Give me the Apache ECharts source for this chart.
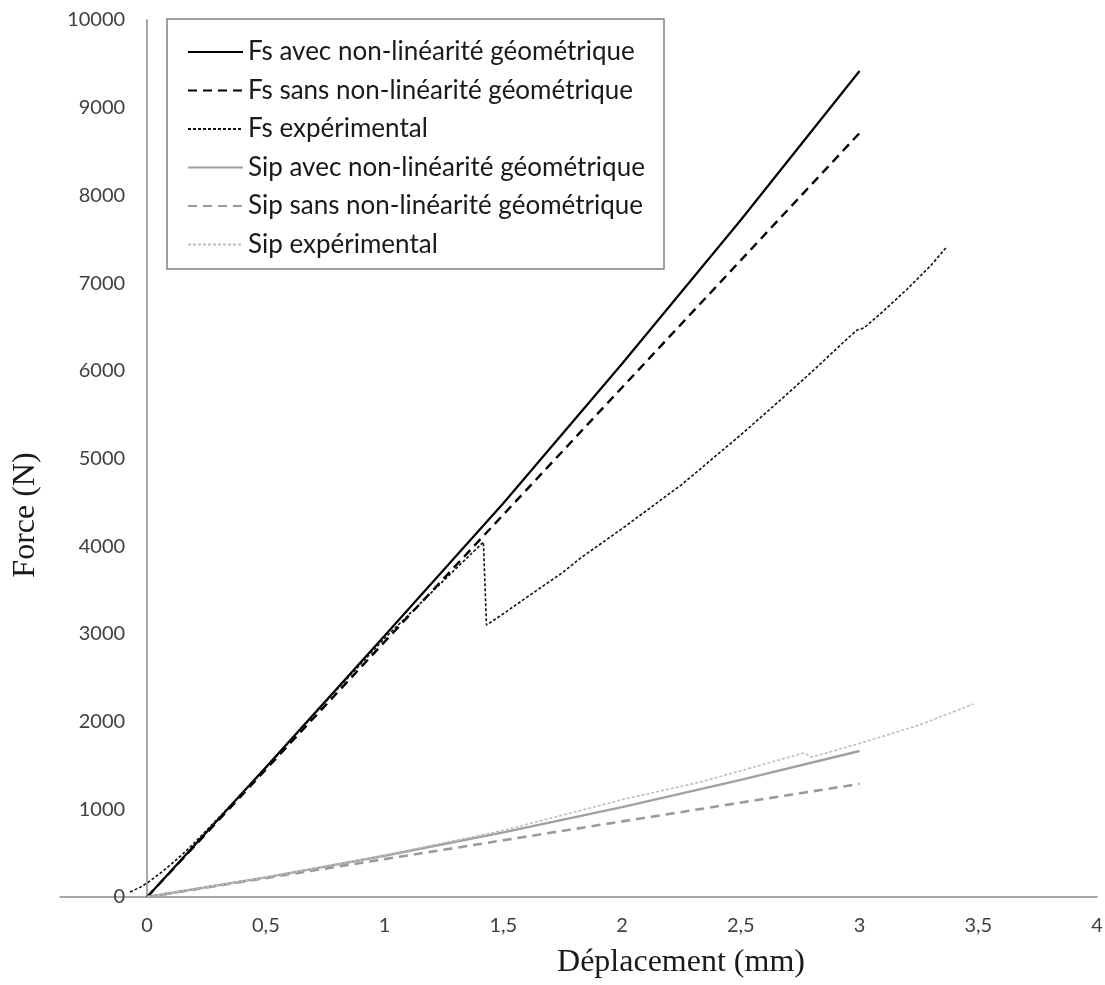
<!DOCTYPE html>
<html>
<head>
<meta charset="utf-8">
<script src="https://cdn.jsdelivr.net/npm/echarts@6/dist/echarts.min.js"></script>
<style>
html,body{margin:0;padding:0;background:#fff;}
#chart{width:1105px;height:985px;}
</style>
</head>
<body>
<div id="chart"></div>
<script>
// ---- data ----
const seriesNames = [
  'Fs avec non-linéarité géométrique',
  'Fs sans non-linéarité géométrique',
  'Fs expérimental',
  'Sip avec non-linéarité géométrique',
  'Sip sans non-linéarité géométrique',
  'Sip expérimental'
];
const fsAvecX = [0, 0.5, 1, 1.5, 2, 2.5, 3];
const fsAvecY = [0, 1480, 2980, 4490, 6080, 7720, 9418];
const fsSansX = [0, 1, 2, 3];
const fsSansY = [0, 2910, 5810, 8711];
const fsExpX = [-0.072, -0.03, 0, 0.05, 0.1, 0.15, 0.2, 0.3, 0.5, 0.75, 1.0, 1.2, 1.416, 1.429, 1.5, 1.6, 1.75, 1.825, 2.0, 2.25, 2.5, 2.667, 2.8, 2.95, 2.99, 3.02, 3.1, 3.2, 3.3, 3.367];
const fsExpY = [57, 110, 160, 260, 370, 490, 620, 900, 1470, 2220, 2950, 3480, 4048, 3101, 3230, 3420, 3700, 3865, 4200, 4700, 5270, 5667, 5990, 6370, 6465, 6490, 6680, 6930, 7200, 7412];
const sipAvecX = [0, 0.5, 1, 1.5, 2, 2.5, 3];
const sipAvecY = [0, 224, 470, 737, 1025, 1335, 1665];
const sipSansX = [0, 1, 2, 3];
const sipSansY = [0, 432, 862, 1290];
const sipExpX = [0, 0.5, 1, 1.5, 2, 2.33, 2.5, 2.765, 2.8, 3, 3.25, 3.48];
const sipExpY = [0, 225, 475, 760, 1110, 1311, 1440, 1642, 1596, 1750, 1960, 2200];
const xTickValues = [0, 0.5, 1, 1.5, 2, 2.5, 3, 3.5, 4];
const xTitle = 'Déplacement (mm)';
const yTitle = 'Force (N)';

function pairs(xs, ys) { return xs.map((x, i) => [x, ys[i]]); }

const labelFont = 'Lato, "Open Sans", sans-serif';
const legendFont = 'Lato, "Open Sans", sans-serif';
const titleFont = '"Liberation Serif", "DejaVu Serif", serif';
const axisColor = '#8c8c8c';

const X_MIN = -0.367, X_MAX = 4;
const GRID_LEFT = 60, GRID_RIGHT = 8;
const plotW = 1105 - GRID_LEFT - GRID_RIGHT;
const zeroOffset = (0 - X_MIN) / (X_MAX - X_MIN) * plotW;

function lineSeries(name, data, color, width, type) {
  return {
    name: name, type: 'line', data: data, symbol: 'none', showSymbol: false,
    smooth: false, animation: false,
    lineStyle: { color: color, width: width, type: type },
    itemStyle: { color: color },
    emphasis: { disabled: true }
  };
}

const chart = echarts.init(document.getElementById('chart'), null, { renderer: 'canvas' });
chart.setOption({
  backgroundColor: '#ffffff',
  animation: false,
  grid: { left: GRID_LEFT, right: GRID_RIGHT, top: 20, bottom: 88, containLabel: false, outerBoundsMode: 'none' },
  xAxis: {
    type: 'value', min: X_MIN, max: X_MAX,
    axisLine: { show: true, onZero: false, lineStyle: { color: axisColor, width: 1.5 } },
    axisTick: { show: false },
    splitLine: { show: false },
    axisLabel: {
      customValues: xTickValues,
      margin: 19,
      fontSize: 20, fontFamily: labelFont, color: '#404040',
      formatter: v => String(v).replace('.', ',')
    }
  },
  yAxis: {
    type: 'value', min: 0, max: 10000, interval: 1000,
    offset: -zeroOffset,
    axisLine: { show: true, onZero: false, lineStyle: { color: axisColor, width: 1.5 } },
    axisTick: { show: false },
    splitLine: { show: false },
    axisLabel: { margin: 22, fontSize: 20, fontFamily: labelFont, color: '#404040', formatter: v => String(v) }
  },
  legend: {
    show: true, orient: 'vertical', left: 187, top: 37,
    itemWidth: 55, itemHeight: 14, itemGap: 8.5,
    padding: 0,
    itemStyle: { opacity: 0, borderWidth: 0 },
    textStyle: { fontSize: 26, fontFamily: legendFont, color: '#1a1a1a', lineHeight: 30 },
    data: seriesNames,
    selectedMode: false, z: 10
  },
  graphic: [
    { type: 'rect', z: 1, silent: true,
      shape: { x: 167, y: 19, width: 497, height: 250 },
      style: { fill: '#ffffff', stroke: '#808080', lineWidth: 1.5 } },
    { type: 'text', z: 5, silent: true, x: 681, y: 963,
      style: { text: xTitle, font: '32px ' + titleFont, fill: '#1a1a1a', align: 'center', verticalAlign: 'middle' } },
    { type: 'text', z: 5, silent: true, x: 26, y: 515, rotation: Math.PI / 2,
      style: { text: yTitle, font: '32px ' + titleFont, fill: '#1a1a1a', align: 'center', verticalAlign: 'middle' } }
  ],
  series: [
    lineSeries(seriesNames[0], pairs(fsAvecX, fsAvecY), '#000000', 2.2, 'solid'),
    lineSeries(seriesNames[1], pairs(fsSansX, fsSansY), '#000000', 2.4, [9, 6]),
    lineSeries(seriesNames[2], pairs(fsExpX, fsExpY), '#111111', 1.6, [3, 2]),
    lineSeries(seriesNames[3], pairs(sipAvecX, sipAvecY), '#a0a0a0', 2.4, 'solid'),
    lineSeries(seriesNames[4], pairs(sipSansX, sipSansY), '#9a9a9a', 2.6, [9, 6]),
    lineSeries(seriesNames[5], pairs(sipExpX, sipExpY), '#bdbdbd', 1.6, [3, 2])
  ]
});
</script>
</body>
</html>
